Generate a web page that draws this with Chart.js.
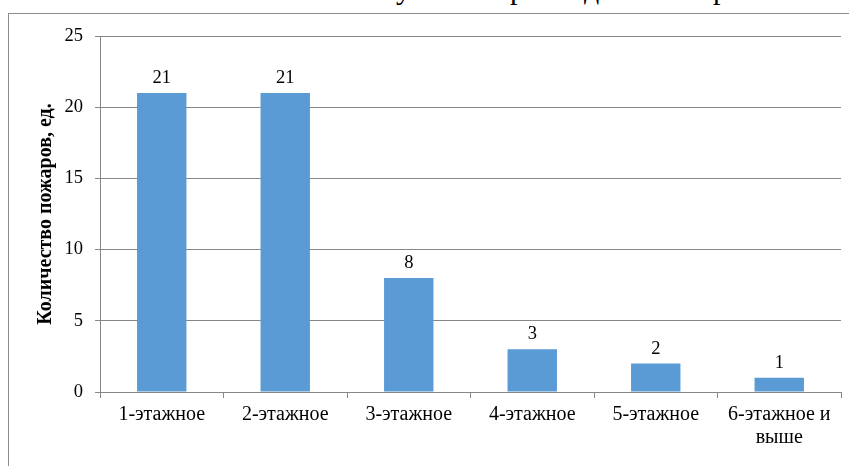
<!DOCTYPE html>
<html>
<head>
<meta charset="utf-8">
<script src="https://cdn.jsdelivr.net/npm/chart.js@4/dist/chart.umd.min.js"></script>
<style>
  html, body { margin: 0; padding: 0; background: #fff; overflow: hidden; }
  #wrap { position: relative; width: 849px; height: 466px; overflow: hidden; }
  #frame { position: absolute; left: 8px; top: 13px; width: 900px; height: 500px;
           border: 1px solid #8c8c8c; box-sizing: border-box; }
  .frag { position: absolute; top: -26px; font-family: 'Liberation Serif', serif;
          font-size: 30px; line-height: 30px; color: #000; }
  canvas { position: absolute; left: 0; top: 0; }
</style>
</head>
<body>
<div id="wrap">
  <!-- tail of the preceding text line -->
  <div class="frag" style="left:396px">у</div>
  <div class="frag" style="left:510px">р</div>
  <div class="frag" style="left:584px">д</div>
  <div class="frag" style="left:713px">р</div>
  <div id="frame"></div>
  <canvas id="chart" width="849" height="466"></canvas>
</div>
<script>
// Number of fires by building height (storeys)
const categories = ['1-этажное', '2-этажное', '3-этажное', '4-этажное', '5-этажное', ['6-этажное и', 'выше']];
const fireCounts = [21, 21, 8, 3, 2, 1];
const yMax = 25;
const yStep = 5;
const yTitle = 'Количество пожаров, ед.';

const SERIF = "'Liberation Serif', 'Times New Roman', serif";
const GRID = '#878787';

// value labels above each bar
const valueLabels = {
  id: 'valueLabels',
  afterDatasetsDraw(chart) {
    const ctx = chart.ctx;
    const meta = chart.getDatasetMeta(0);
    ctx.save();
    ctx.font = '18.5px ' + SERIF;
    ctx.fillStyle = '#000';
    ctx.textAlign = 'center';
    ctx.textBaseline = 'alphabetic';
    meta.data.forEach((bar, i) => {
      ctx.fillText(String(fireCounts[i]), bar.x, bar.y - 10);
    });
    ctx.restore();
  }
};

new Chart(document.getElementById('chart'), {
  type: 'bar',
  data: {
    labels: categories,
    datasets: [{
      data: fireCounts,
      backgroundColor: '#5b9bd5',
      borderWidth: 0,
      categoryPercentage: 1,
      barPercentage: 0.4
    }]
  },
  options: {
    responsive: false,
    animation: false,
    devicePixelRatio: 1,
    layout: { padding: { left: 0, top: 36, right: 8, bottom: 0 } },
    plugins: { legend: { display: false }, tooltip: { enabled: false } },
    scales: {
      x: {
        afterFit(scale) { scale.height = 74; },
        grid: { drawOnChartArea: false, color: GRID, tickLength: 6, offset: true },
        border: { color: GRID },
        ticks: { color: '#000', padding: 5, maxRotation: 0, autoSkip: false,
                 font: { family: SERIF, size: 20, lineHeight: 1.15 } }
      },
      y: {
        min: 0,
        max: yMax,
        afterFit(scale) { scale.width = 100; },
        grid: { color: GRID, tickLength: 5 },
        border: { color: GRID },
        ticks: { stepSize: yStep, color: '#000', padding: 12,
                 font: { family: SERIF, size: 18.5 } },
        title: { display: true, text: yTitle, color: '#000',
                 padding: { top: 35, bottom: 0 },
                 font: { family: SERIF, size: 20, weight: 'bold', lineHeight: 1.1 } }
      }
    }
  },
  plugins: [valueLabels]
});
</script>
</body>
</html>
